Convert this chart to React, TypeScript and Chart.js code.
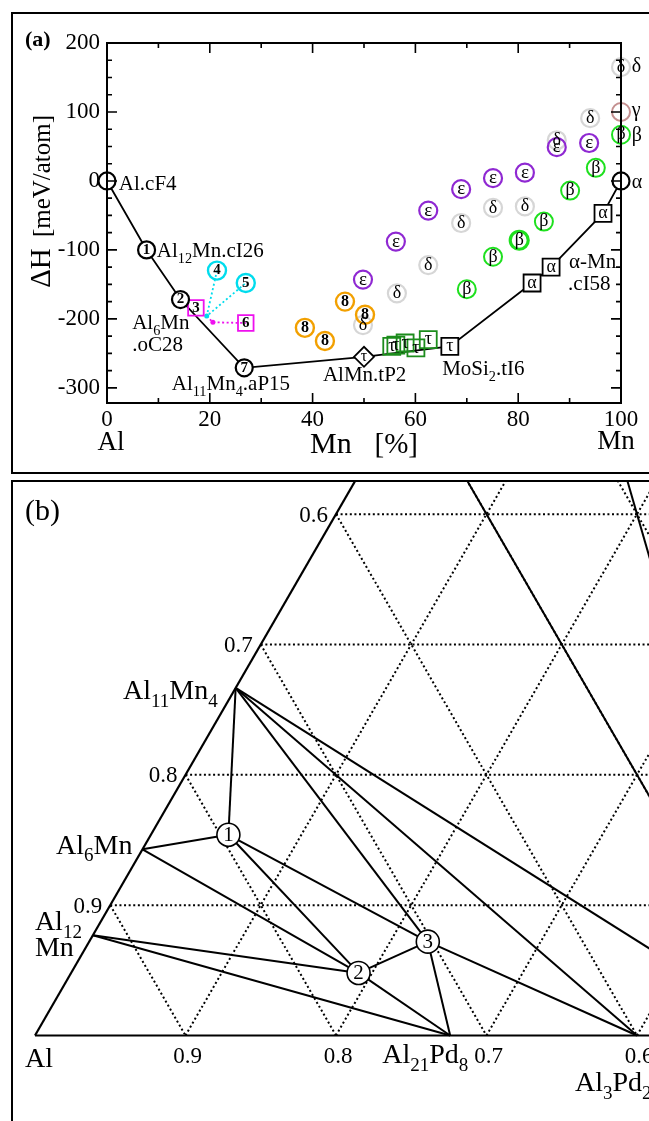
import React, { useEffect, useRef } from "react";
import { Chart, registerables } from "chart.js";
Chart.register(...registerables);

const SERIF = '"Liberation Serif", "Times New Roman", "DejaVu Serif", serif';

// ================= Panel (a): formation enthalpy vs Mn content =================
const X_TICKS = [0, 20, 40, 60, 80, 100];
const X_MINOR = [10, 30, 50, 70, 90];
const Y_TICKS = [-300, -200, -100, 0, 100, 200];
const Y_MINOR = [-275, -250, -225, -175, -150, -125, -75, -50, -25, 25, 50, 75, 125, 150, 175];

// convex hull (solid black line)
const HULL_MN = [0, 7.7, 14.3, 26.7, 50, 66.7, 82.7, 86.4, 96.5, 100];
const HULL_DH = [0, -100, -172, -271, -255, -240, -148, -125, -47, 0];

// black circles (stable phases)
const BLACK_CIRCLE_MN = [0, 7.7, 14.3, 26.7, 100];
const BLACK_CIRCLE_DH = [0, -100, -172, -271, 0];
const BLACK_CIRCLE_TXT = ["", "1", "2", "7", ""];

// black squares
const BLACK_SQ_MN = [66.7, 82.7, 86.4, 96.5];
const BLACK_SQ_DH = [-240, -148, -125, -47];
const BLACK_SQ_TXT = ["τ", "α", "α", "α"];

// AlMn.tP2 diamond
const DIAMOND_MN = [50];
const DIAMOND_DH = [-255];
const DIAMOND_TXT = ["τ"];

// green tau squares
const TAU_MN = [55.4, 56.2, 58.0, 60.1, 62.5];
const TAU_DH = [-240, -238, -235, -242, -230];

// delta (grey)
const DELTA_MN = [100, 94.0, 87.5, 81.3, 75.1, 68.9, 62.5, 56.4, 49.8];
const DELTA_DH = [165, 91, 59, -37, -39, -61, -122, -163, -209];

// epsilon (purple)
const EPS_MN = [93.8, 87.5, 81.3, 75.1, 68.9, 62.5, 56.2, 49.8];
const EPS_DH = [55, 49, 12, 4, -12, -43, -88, -143];

// beta (green)
const BETA_MN = [100, 95.1, 90.1, 85.0, 80.2, 75.1, 70.0];
const BETA_DH = [67, 19, -14, -59, -86, -110, -157];
const BETA_W = [2, 2, 2, 2, 3.2, 2, 2];

// gamma (rosy brown)
const GAMMA_MN = [100];
const GAMMA_DH = [100];

// orange "8"
const ORANGE_MN = [38.5, 42.4, 46.3, 50.2];
const ORANGE_DH = [-213, -232, -175, -194];

// cyan circles 4, 5 and magenta squares 3, 6
const CYAN_MN = [21.4, 27.0];
const CYAN_DH = [-130, -148];
const CYAN_TXT = ["4", "5"];
const MAG_MN = [17.3, 27.0];
const MAG_DH = [-184, -206];
const MAG_TXT = ["3", "6"];
const CYAN_DOT = { x: 19.4, y: -196 };
const MAG_DOT = { x: 20.6, y: -205 };

type Part = [string, number];
type LabelA = { parts: Part[]; x: number; y: number; size: number };
const LABELS_A: LabelA[] = [
  { parts: [["Al.cF4", 0]], x: 2.3, y: -3, size: 21 },
  { parts: [["Al", 0], ["12", 1], ["Mn.cI26", 0]], x: 9.7, y: -100, size: 21 },
  { parts: [["Al", 0], ["6", 1], ["Mn", 0]], x: 4.9, y: -205, size: 21 },
  { parts: [[".oC28", 0]], x: 4.9, y: -236, size: 21 },
  { parts: [["Al", 0], ["11", 1], ["Mn", 0], ["4", 1], [".aP15", 0]], x: 12.6, y: -293, size: 21 },
  { parts: [["AlMn.tP2", 0]], x: 42.0, y: -280, size: 21 },
  { parts: [["MoSi", 0], ["2", 1], [".tI6", 0]], x: 65.2, y: -272, size: 21 },
  { parts: [["α-Mn", 0]], x: 89.9, y: -116, size: 21 },
  { parts: [[".cI58", 0]], x: 89.7, y: -148, size: 21 },
  { parts: [["δ", 0]], x: 102.1, y: 168, size: 20 },
  { parts: [["γ", 0]], x: 102.1, y: 104, size: 20 },
  { parts: [["β", 0]], x: 102.1, y: 67, size: 20 },
  { parts: [["α", 0]], x: 102.1, y: -1, size: 20 },
];

// ================= Panel (b): Al-rich corner of Al–Mn–Pd ternary =================
const PHASE_NAMES = ["Al", "Al12Mn", "Al6Mn", "Al11Mn4", "AlMn", "Al21Pd8", "Al3Pd2", "AlPd", "T", "P1", "P2", "P3"];
const PHASE_MN = [0, 1 / 13, 1 / 7, 4 / 15, 0.5, 0, 0, 0, 0.5, 0.154, 0.048, 0.072];
const PHASE_PD = [0, 0, 0, 0, 0, 8 / 29, 0.4, 0.5, 0.125, 0.0515, 0.191, 0.225];

const TIE_FROM = ["Al11Mn4", "Al6Mn", "P1", "P1", "Al6Mn", "Al12Mn", "Al12Mn", "P2", "P2", "P3", "Al11Mn4", "P3", "Al11Mn4", "Al11Mn4", "AlPd", "AlPd"];
const TIE_TO = ["P1", "P1", "P2", "P3", "P2", "P2", "Al21Pd8", "Al21Pd8", "P3", "Al21Pd8", "P3", "Al3Pd2", "Al3Pd2", "AlPd", "AlMn", "T"];

const CIRCLE_PHASES = ["P1", "P2", "P3"];
const CIRCLE_TXT = ["1", "2", "3"];

const GRID_LEVELS = [0.1, 0.2, 0.3, 0.4, 0.5, 0.6, 0.7, 0.8, 0.9];
const AXIS_LEVELS = [0.1, 0.2, 0.3, 0.4];

type LabelB = { phase: string; parts: Part[]; dx: number; dy: number; align: "left" | "right" };
const LABELS_B: LabelB[] = [
  { phase: "Al11Mn4", parts: [["Al", 0], ["11", 1], ["Mn", 0], ["4", 1]], dx: -18, dy: 2, align: "right" },
  { phase: "Al6Mn", parts: [["Al", 0], ["6", 1], ["Mn", 0]], dx: -10, dy: -5, align: "right" },
  { phase: "Al12Mn", parts: [["Al", 0], ["12", 1]], dx: -58, dy: -14, align: "left" },
  { phase: "Al12Mn", parts: [["Mn", 0]], dx: -58, dy: 12, align: "left" },
  { phase: "Al", parts: [["Al", 0]], dx: -10, dy: 22, align: "left" },
  { phase: "Al21Pd8", parts: [["Al", 0], ["21", 1], ["Pd", 0], ["8", 1]], dx: -68, dy: 18, align: "left" },
  { phase: "Al3Pd2", parts: [["Al", 0], ["3", 1], ["Pd", 0], ["2", 1]], dx: -62, dy: 46, align: "left" },
];

// layout of panel (b) (page pixels)
const B_LEFT = 13, B_TOP = 482, B_W = 636, B_H = 639;
const ORIGIN_X = 35, ORIGIN_Y = 1035.5, SIDE = 1505;
const SQ3 = Math.sqrt(3) / 2;

function tern(mn: number, pd: number) {
  return { x: pd + mn / 2, y: mn * SQ3 };
}
function phase(name: string) {
  const i = PHASE_NAMES.indexOf(name);
  return tern(PHASE_MN[i], PHASE_PD[i]);
}

function drawRich(ctx: any, parts: Part[], x: number, yc: number, size: number, align: string, weight = "normal") {
  const sub = size * 0.68;
  const widths = parts.map(([t, s]) => {
    ctx.font = `${weight} ${s ? sub : size}px ${SERIF}`;
    return ctx.measureText(t).width;
  });
  const total = widths.reduce((a, b) => a + b, 0);
  let cx = align === "left" ? x : align === "right" ? x - total : x - total / 2;
  const base = yc + size * 0.33;
  ctx.textAlign = "left";
  ctx.textBaseline = "alphabetic";
  ctx.fillStyle = "#000";
  parts.forEach(([t, s], i) => {
    ctx.font = `${weight} ${s ? sub : size}px ${SERIF}`;
    ctx.fillText(t, cx, s ? base + size * 0.28 : base);
    cx += widths[i];
  });
}

function innerTextPlugin(id: string) {
  return {
    id,
    afterDatasetsDraw(chart: any) {
      const ctx = chart.ctx;
      ctx.save();
      chart.data.datasets.forEach((ds: any, i: number) => {
        if (!ds.txt) return;
        const meta = chart.getDatasetMeta(i);
        ctx.font = ds.txtFont;
        ctx.fillStyle = "#000";
        ctx.textAlign = "center";
        ctx.textBaseline = "middle";
        meta.data.forEach((el: any, j: number) => {
          const t = ds.txt[j];
          if (t) ctx.fillText(t, el.x, el.y + (ds.txtDy || 0));
        });
      });
      ctx.restore();
    },
  };
}

function markers(xs: number[], ys: number[], txt: string[] | null, o: any) {
  return {
    data: xs.map((x, i) => ({ x, y: ys[i] })),
    showLine: false,
    pointStyle: o.style,
    pointRadius: o.r,
    pointBorderColor: o.color,
    pointBackgroundColor: o.fill || "rgba(0,0,0,0)",
    pointBorderWidth: o.w,
    txt,
    txtFont: o.font,
    txtDy: o.dy || 0,
    order: o.order ?? 1,
    clip: false,
  };
}

const panelAPlugin = {
  id: "panelA",
  afterDatasetsDraw(chart: any) {
    const { ctx, chartArea: ca, scales } = chart;
    const xs = scales.x, ys = scales.y;
    ctx.save();
    ctx.strokeStyle = "#000";
    ctx.lineWidth = 1.6;
    ctx.beginPath();
    const tick = (v: number, len: number, horiz: boolean) => {
      if (horiz) {
        const px = xs.getPixelForValue(v);
        ctx.moveTo(px, ca.bottom); ctx.lineTo(px, ca.bottom - len);
        ctx.moveTo(px, ca.top); ctx.lineTo(px, ca.top + len);
      } else {
        const py = ys.getPixelForValue(v);
        ctx.moveTo(ca.left, py); ctx.lineTo(ca.left + len, py);
        ctx.moveTo(ca.right, py); ctx.lineTo(ca.right - len, py);
      }
    };
    X_TICKS.forEach((v) => tick(v, 10, true));
    X_MINOR.forEach((v) => tick(v, 5, true));
    Y_TICKS.forEach((v) => tick(v, 10, false));
    Y_MINOR.forEach((v) => tick(v, 5, false));
    ctx.stroke();
    ctx.lineWidth = 2;
    ctx.strokeRect(ca.left, ca.top, ca.right - ca.left, ca.bottom - ca.top);
    ctx.restore();
  },
  afterDraw(chart: any) {
    const { ctx, chartArea: ca, scales } = chart;
    const xs = scales.x, ys = scales.y;
    ctx.save();
    LABELS_A.forEach((l) => drawRich(ctx, l.parts, xs.getPixelForValue(l.x), ys.getPixelForValue(l.y), l.size, "left"));
    // panel tag
    drawRich(ctx, [["(a)", 0]], 25, 39, 22, "left", "bold");
    // x axis end labels and title
    drawRich(ctx, [["Al", 0]], xs.getPixelForValue(0) + 4, ca.bottom + 38, 27, "center");
    drawRich(ctx, [["Mn", 0]], xs.getPixelForValue(100) - 5, ca.bottom + 37, 27, "center");
    drawRich(ctx, [["Mn", 0]], 310, ca.bottom + 40, 30, "left");
    drawRich(ctx, [["[%]", 0]], 418, ca.bottom + 40, 29, "right");
    // y title (rotated)
    ctx.translate(50, 0);
    ctx.rotate(-Math.PI / 2);
    ctx.fillStyle = "#000";
    ctx.textBaseline = "alphabetic";
    ctx.textAlign = "center";
    ctx.font = `normal 29px ${SERIF}`;
    ctx.fillText("ΔH", -268, 0);
    ctx.font = `normal 25px ${SERIF}`;
    ctx.fillText("[meV/atom]", -176, 0);
    ctx.restore();
  },
};

const datasetsA: any[] = [
  {
    data: HULL_MN.map((x, i) => ({ x, y: HULL_DH[i] })),
    showLine: true, pointRadius: 0, borderColor: "#000", borderWidth: 1.8, order: 20, clip: false,
  },
  {
    data: [{ x: CYAN_MN[0], y: CYAN_DH[0] }, CYAN_DOT, { x: CYAN_MN[1], y: CYAN_DH[1] }],
    showLine: true, borderColor: "#00dced", borderWidth: 1.8, borderDash: [2, 2.5],
    pointRadius: [0, 2.5, 0], pointBackgroundColor: "#00dced", pointBorderWidth: 0, order: 15, clip: false,
  },
  {
    data: [CYAN_DOT, MAG_DOT, { x: MAG_MN[1], y: MAG_DH[1] }],
    showLine: true, borderColor: "#ee10ee", borderWidth: 1.8, borderDash: [2, 2.5],
    pointRadius: [0, 2.5, 0], pointBackgroundColor: "#ee10ee", pointBorderWidth: 0, order: 16, clip: false,
  },
  markers(DELTA_MN, DELTA_DH, DELTA_MN.map(() => "δ"), { style: "circle", r: 9, color: "#d6d6d6", w: 2.2, font: `normal 18px ${SERIF}`, order: 12 }),
  markers(EPS_MN, EPS_DH, EPS_MN.map(() => "ε"), { style: "circle", r: 9, color: "#8f28d2", w: 2.2, font: `normal 19px ${SERIF}`, order: 11 }),
  markers(BETA_MN, BETA_DH, BETA_MN.map(() => "β"), { style: "circle", r: 9, color: "#1ee01e", w: BETA_W, font: `normal 18px ${SERIF}`, order: 11 }),
  markers(GAMMA_MN, GAMMA_DH, null, { style: "circle", r: 9, color: "#c49090", w: 2, order: 11 }),
  markers(ORANGE_MN, ORANGE_DH, ORANGE_MN.map(() => "8"), { style: "circle", r: 9, color: "#f2a000", w: 2.4, font: `bold 16px ${SERIF}`, order: 10 }),
  markers(CYAN_MN, CYAN_DH, CYAN_TXT, { style: "circle", r: 9, color: "#00dced", w: 2.4, font: `bold 15px ${SERIF}`, order: 10 }),
  markers(MAG_MN, MAG_DH, MAG_TXT, { style: "rect", r: 11, color: "#ee10ee", w: 1.8, font: `bold 15px ${SERIF}`, order: 10 }),
  markers(TAU_MN, TAU_DH, TAU_MN.map(() => "τ"), { style: "rect", r: 12, color: "#1c8c1c", w: 1.8, font: `normal 18px ${SERIF}`, order: 9 }),
  markers(BLACK_SQ_MN, BLACK_SQ_DH, BLACK_SQ_TXT, { style: "rect", r: 12, color: "#000", w: 1.8, fill: "#fff", font: `normal 18px ${SERIF}`, order: 8 }),
  markers(DIAMOND_MN, DIAMOND_DH, DIAMOND_TXT, { style: "rectRot", r: 10, color: "#000", w: 1.8, fill: "#fff", font: `normal 16px ${SERIF}`, order: 8 }),
  markers(BLACK_CIRCLE_MN, BLACK_CIRCLE_DH, BLACK_CIRCLE_TXT, { style: "circle", r: 8.5, color: "#000", w: 2.2, fill: "#fff", font: `bold 15px ${SERIF}`, order: 7 }),
];

const tickFont = { family: SERIF, size: 23 };

const cfgA: any = {
  type: "scatter",
  data: { datasets: datasetsA },
  options: {
    animation: false,
    responsive: false,
    events: [],
    layout: { padding: { left: 0, top: 43, right: 28, bottom: 0 }, autoPadding: false },
    plugins: { legend: { display: false }, tooltip: { enabled: false } },
    scales: {
      x: {
        type: "linear", min: 0, max: 100, position: "bottom",
        grid: { display: false, drawTicks: false }, border: { display: false },
        ticks: { autoSkip: false, maxRotation: 0, padding: 3, color: "#000", font: tickFont, callback: (v: any) => String(v) },
        afterBuildTicks: (s: any) => { s.ticks = X_TICKS.map((v) => ({ value: v })); },
        afterFit: (s: any) => { s.height = 74; },
      },
      y: {
        type: "linear", min: -322, max: 200, position: "left",
        grid: { display: false, drawTicks: false }, border: { display: false },
        ticks: { autoSkip: false, padding: 7, color: "#000", font: tickFont, callback: (v: any) => String(v) },
        afterBuildTicks: (s: any) => { s.ticks = Y_TICKS.map((v) => ({ value: v })); },
        afterFit: (s: any) => { s.width = 107; },
      },
    },
  },
  plugins: [panelAPlugin, innerTextPlugin("innerA")],
};

// ---------- panel (b) config ----------
const xMinB = (B_LEFT - ORIGIN_X) / SIDE;
const xMaxB = (B_LEFT + B_W - ORIGIN_X) / SIDE;
const yMaxB = (ORIGIN_Y - B_TOP) / SIDE;
const yMinB = (ORIGIN_Y - (B_TOP + B_H)) / SIDE;

const datasetsB: any[] = [];
// circles on top
datasetsB.push({
  data: CIRCLE_PHASES.map((n) => phase(n)),
  showLine: false, pointStyle: "circle", pointRadius: 11.5, pointBorderColor: "#000",
  pointBackgroundColor: "#fff", pointBorderWidth: 1.6, txt: CIRCLE_TXT, txtFont: `normal 21px ${SERIF}`, txtDy: 1, order: 0,
});
// triangle edges
datasetsB.push({ data: [tern(0, 0), tern(1, 0)], showLine: true, pointRadius: 0, borderColor: "#000", borderWidth: 2.2, order: 1 });
datasetsB.push({ data: [tern(0, 0), tern(0, 1)], showLine: true, pointRadius: 0, borderColor: "#000", borderWidth: 2.2, order: 1 });
// tie lines
TIE_FROM.forEach((f, i) => {
  datasetsB.push({ data: [phase(f), phase(TIE_TO[i])], showLine: true, pointRadius: 0, borderColor: "#000", borderWidth: 2, order: 2 });
});
// dotted grid
GRID_LEVELS.forEach((k) => {
  const dotted = { showLine: true, pointRadius: 0, borderColor: "#000", borderWidth: 2, borderDash: [2, 2.6], order: 5 };
  datasetsB.push({ ...dotted, data: [tern(k, 0), tern(k, 1 - k)] }); // constant Mn
  datasetsB.push({ ...dotted, data: [tern(0, k), tern(1 - k, k)] }); // constant Pd
  datasetsB.push({ ...dotted, data: [tern(1 - k, 0), tern(0, 1 - k)] }); // constant Al = k
});

const panelBPlugin = {
  id: "panelB",
  afterDraw(chart: any) {
    const { ctx, scales } = chart;
    const xs = scales.x, ys = scales.y;
    const px = (p: any) => ({ x: xs.getPixelForValue(p.x), y: ys.getPixelForValue(p.y) });
    ctx.save();
    // axis labels on the Al-Mn edge (Al fraction)
    AXIS_LEVELS.forEach((m) => {
      const p = px(tern(m, 0));
      drawRich(ctx, [[(1 - m).toFixed(1), 0]], p.x - 8, p.y, 23, "right");
    });
    // axis labels on the Al-Pd edge (Al fraction)
    AXIS_LEVELS.forEach((d) => {
      const p = px(tern(0, d));
      drawRich(ctx, [[(1 - d).toFixed(1), 0]], p.x + 2, p.y + 19.5, 23, "center");
    });
    LABELS_B.forEach((l) => {
      const p = px(phase(l.phase));
      drawRich(ctx, l.parts, p.x + l.dx, p.y + l.dy, 28, l.align);
    });
    drawRich(ctx, [["(b)", 0]], 25 - B_LEFT, 510 - B_TOP, 30, "left");
    ctx.restore();
  },
};

const cfgB: any = {
  type: "scatter",
  data: { datasets: datasetsB },
  options: {
    animation: false,
    responsive: false,
    events: [],
    layout: { padding: 0, autoPadding: false },
    plugins: { legend: { display: false }, tooltip: { enabled: false } },
    scales: {
      x: { type: "linear", min: xMinB, max: xMaxB, display: false },
      y: { type: "linear", min: yMinB, max: yMaxB, display: false },
    },
  },
  plugins: [panelBPlugin, innerTextPlugin("innerB")],
};

export default function App() {
  const refA = useRef<HTMLCanvasElement>(null);
  const refB = useRef<HTMLCanvasElement>(null);
  useEffect(() => {
    const a = new Chart(refA.current as HTMLCanvasElement, cfgA);
    const b = new Chart(refB.current as HTMLCanvasElement, cfgB);
    return () => {
      a.destroy();
      b.destroy();
    };
  }, []);
  return (
    <div style={{ position: "absolute", left: 0, top: 0, width: 649, height: 1121, overflow: "hidden", background: "#fff" }}>
      <div style={{ position: "absolute", left: 11, top: 12, width: 700, height: 458, border: "2px solid #000" }} />
      <canvas ref={refA} width={649} height={477} style={{ position: "absolute", left: 0, top: 0 }} />
      <div style={{ position: "absolute", left: 11, top: 480, width: 700, height: 700, border: "2px solid #000" }} />
      <canvas ref={refB} width={B_W} height={B_H} style={{ position: "absolute", left: B_LEFT, top: B_TOP }} />
    </div>
  );
}
